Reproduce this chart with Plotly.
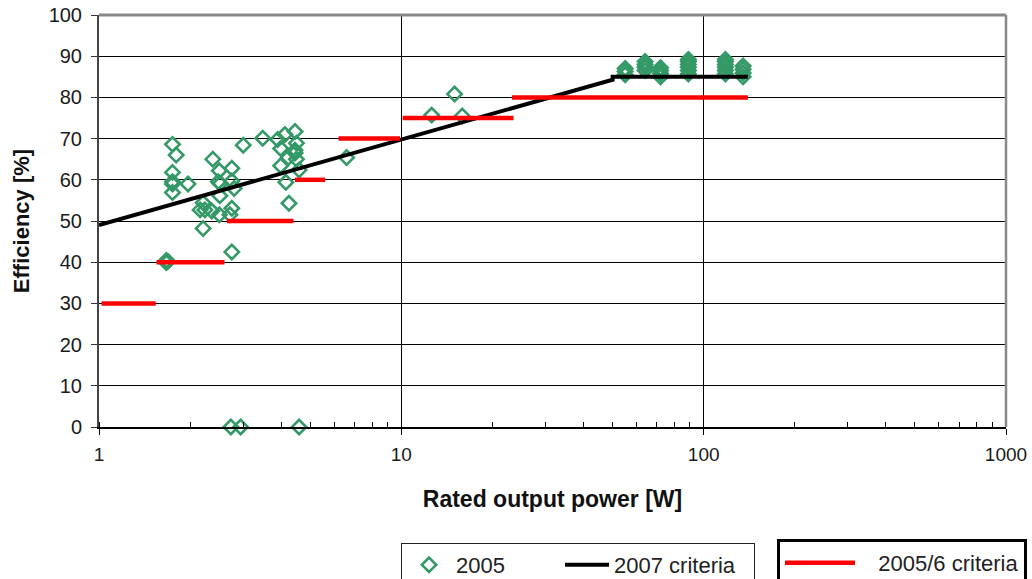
import plotly.graph_objects as go

# ---- data ----
power_2005 = [1.75, 1.80, 1.75, 1.75, 1.75, 1.75, 1.97, 1.67, 1.67, 1.69,
              2.38, 2.50, 2.75, 2.48, 2.52, 2.75, 2.80, 2.51, 2.21, 2.16,
              2.24, 2.36, 2.50, 2.75, 2.71, 2.21, 2.75,
              3.00, 3.48, 3.90, 4.12, 4.45, 3.99, 4.50, 4.45, 4.45, 4.23,
              4.50, 3.99, 4.59, 4.15, 4.25, 6.59,
              2.73, 2.94, 4.59,
              12.6, 15.0, 15.9,
              55, 55, 55,
              64, 64, 64, 64,
              72, 72, 72, 72,
              89, 89, 89, 89, 89, 89,
              118, 118, 118, 118, 118, 118,
              135, 135, 135, 135]
eff_2005 = [68.6, 66.0, 61.8, 59.5, 59.0, 56.9, 59.0, 39.9, 40.4, 40.2,
            65.0, 62.2, 62.8, 59.5, 59.1, 59.7, 57.9, 56.1, 54.4, 52.7,
            52.7, 52.4, 51.5, 53.1, 51.5, 48.2, 42.5,
            68.4, 70.1, 69.8, 71.0, 71.7, 67.6, 68.9, 67.2, 66.5, 65.4,
            65.0, 63.4, 62.4, 59.4, 54.3, 65.4,
            0, 0, 0,
            75.7, 80.8, 75.5,
            85.5, 86.3, 87.0,
            86.5, 87.3, 88.0, 88.7,
            85.0, 85.8, 86.5, 87.2,
            85.7, 86.5, 87.3, 88.0, 88.7, 89.2,
            85.7, 86.5, 87.3, 88.0, 88.7, 89.2,
            85.0, 85.9, 86.8, 87.6]

crit2007_power = [1, 50, 50, 140]
crit2007_eff = [49.0, 84.3, 85.0, 85.0]

crit2005_level = [30, 40, 50, 60, 70, 75, 80]
crit2005_from = [1.02, 1.55, 2.65, 4.45, 6.2, 10.1, 23.2]
crit2005_to = [1.54, 2.60, 4.40, 5.60, 9.9, 23.5, 140]

x_ticks = [1, 10, 100, 1000]
x_ticktext = ["1", "10", "100", "1000"]
y_ticks = list(range(0, 101, 10))

# build the segment trace for the step criteria
seg_x, seg_y = [], []
for lvl, a, b in zip(crit2005_level, crit2005_from, crit2005_to):
    seg_x += [a, b, None]
    seg_y += [lvl, lvl, None]

FONT = "Liberation Sans, Arial, sans-serif"
GREEN = "#339966"
NB = "\u00a0"

fig = go.Figure()
fig.add_trace(go.Scatter(
    x=power_2005, y=eff_2005, mode="markers", name="2005",
    marker=dict(symbol="diamond-open", size=11, color=GREEN,
                line=dict(width=2.6, color=GREEN)),
    cliponaxis=False, legend="legend", legendwidth=99))
fig.add_trace(go.Scatter(
    x=crit2007_power, y=crit2007_eff, mode="lines", name="2007 criteria",
    line=dict(color="black", width=4), legend="legend", legendwidth=135))
fig.add_trace(go.Scatter(
    x=seg_x, y=seg_y, mode="lines", name=NB * 3 + "2005/6 criteria",
    line=dict(color="#ff0000", width=4.5), legend="legend2"))

fig.update_layout(
    width=1032, height=579,
    margin=dict(l=99, r=26, t=15, b=152, autoexpand=False),
    paper_bgcolor="white", plot_bgcolor="white",
    font=dict(family=FONT, color="#222", size=19),
    xaxis=dict(
        type="log", range=[0, 3], tickmode="array", tickvals=x_ticks,
        ticktext=x_ticktext, ticks="outside", ticklen=6, tickcolor="black",
        ticklabelstandoff=3,
        showline=True, linecolor="black", linewidth=1.5,
        showgrid=True, gridcolor="black", gridwidth=1,
        zeroline=False,
        tickfont=dict(size=19, color="#1a1a1a"),
        minor=dict(dtick="D1", ticks="inside", ticklen=5, tickcolor="black",
                   showgrid=False),
        title=dict(text="<b>Rated output power [W]</b>",
                   font=dict(size=23, color="#111"), standoff=27),
    ),
    yaxis=dict(
        range=[0, 100], tickmode="array", tickvals=y_ticks,
        ticks="outside", ticklen=6, tickcolor="#333",
        ticklabelstandoff=5,
        showline=True, linecolor="#444", linewidth=2,
        showgrid=True, gridcolor="black", gridwidth=1,
        zeroline=False,
        tickfont=dict(size=20, color="#1a1a1a"),
        title=dict(text="<b>Efficiency [%]</b>",
                   font=dict(size=22, color="#111"), standoff=13),
    ),
    legend=dict(
        orientation="h", x=0.333, y=-0.2816, xanchor="left", yanchor="top",
        bordercolor="#222", borderwidth=1, bgcolor="white",
        font=dict(size=22, color="#222"), itemwidth=44,
    ),
    legend2=dict(
        orientation="h", x=0.7475, y=-0.272, xanchor="left", yanchor="top",
        bordercolor="black", borderwidth=3, bgcolor="white",
        font=dict(size=22, color="#222"), itemwidth=70,
    ),
    shapes=[
        dict(type="line", xref="paper", yref="paper", x0=0, x1=1, y0=1, y1=1,
             line=dict(color="#888", width=3), layer="above"),
        dict(type="line", xref="paper", yref="paper", x0=1, x1=1, y0=0, y1=1,
             line=dict(color="#888", width=2.5), layer="above"),
    ],
)

fig.write_html("out.html")
